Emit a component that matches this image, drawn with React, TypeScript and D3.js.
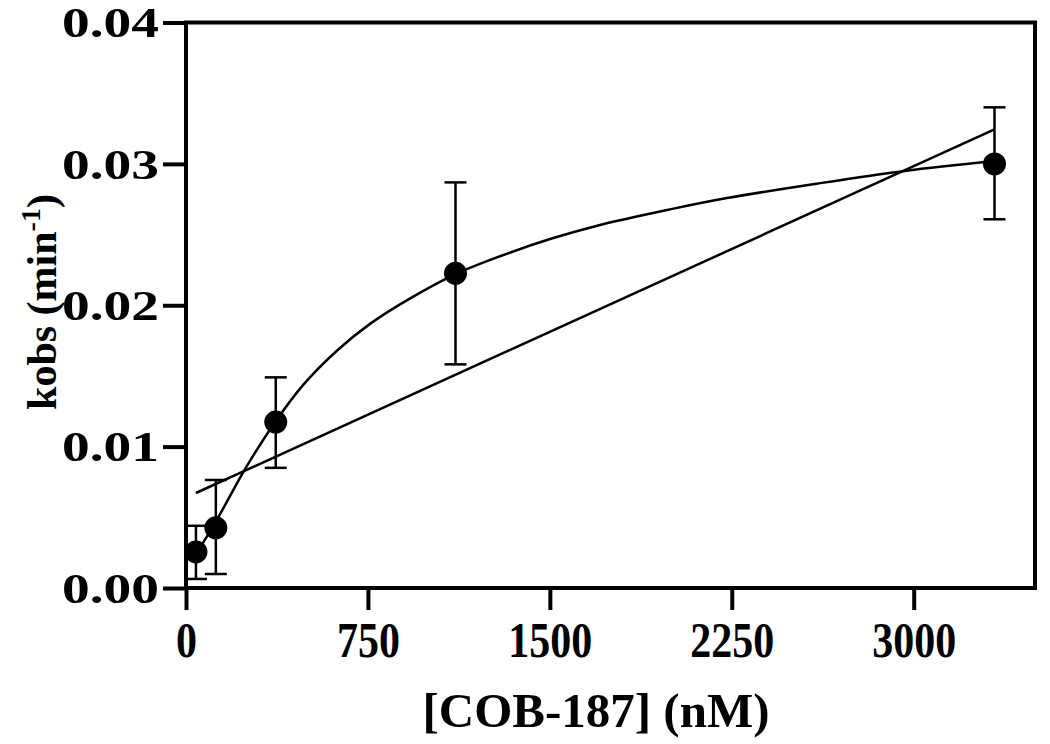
import React, { useEffect, useRef } from 'react';
import * as d3 from 'd3';

// measured points: [COB-187] in nM, kobs in min^-1
const conc = [41, 123, 370, 1111, 3333];
const kobs = [0.00255, 0.00426, 0.01174, 0.02226, 0.03];
const errHi = [0.0044, 0.00764, 0.0149, 0.02869, 0.034];
const errLo = [0.00064, 0.00099, 0.0085, 0.01582, 0.02608];

// fitted hyperbola
const fitX = [41, 123, 250, 370, 485, 623, 760, 926, 1111, 1300, 1504, 1711, 2000, 2236, 2600, 2963, 3333];
const fitY = [0.0024, 0.0047, 0.0086, 0.0118, 0.0144, 0.0168, 0.0187, 0.0205, 0.0222, 0.0235, 0.0247, 0.0257, 0.0268, 0.0276, 0.0286, 0.0295, 0.0302];

// straight line fit, end points
const linX = [41, 3333];
const linY = [0.00672, 0.03244];

const xTicks = [0, 750, 1500, 2250, 3000];
const yTicks = [0, 0.01, 0.02, 0.03, 0.04];

function App() {
  const svgRef = useRef<SVGSVGElement>(null);
  const w = 1050;
  const h = 744;

  useEffect(() => {
    const svg = d3.select(svgRef.current);
    svg.selectAll('*').remove();

    const x = d3.scaleLinear().domain([0, 3500]).range([186, 1035]);
    const y = d3.scaleLinear().domain([0, 0.04]).range([588, 22.5]);
    const font = '"Liberation Serif", "Times New Roman", serif';

    // frame box
    svg.append('rect')
      .attr('x', x(0)).attr('y', y(0.04))
      .attr('width', x(3500) - x(0)).attr('height', y(0) - y(0.04))
      .attr('fill', 'none').attr('stroke', '#000').attr('stroke-width', 4);

    // y axis ticks + labels (labels are drawn wide in the original)
    const yAxis = d3.axisLeft(y).tickValues(yTicks).tickSize(23).tickPadding(4)
      .tickFormat(d3.format('.2f'));
    const gy = svg.append('g').attr('transform', `translate(${x(0)},0)`).call(yAxis);
    gy.select('.domain').remove();
    gy.selectAll('line').attr('stroke', '#000').attr('stroke-width', 4);
    gy.selectAll('text')
      .attr('x', 0)
      .attr('transform', 'translate(-27,0) scale(1.32,1)')
      .attr('font-family', font).attr('font-weight', 'bold').attr('font-size', 42)
      .attr('fill', '#000').attr('dy', '0.34em');

    // x axis ticks + labels (narrow, tall digits)
    const xAxis = d3.axisBottom(x).tickValues(xTicks).tickSize(22).tickPadding(10)
      .tickFormat(d3.format('d'));
    const gx = svg.append('g').attr('transform', `translate(0,${y(0)})`).call(xAxis);
    gx.select('.domain').remove();
    gx.selectAll('line').attr('stroke', '#000').attr('stroke-width', 4);
    gx.selectAll('text')
      .attr('y', 0).attr('dy', 0)
      .attr('transform', 'translate(0,69) scale(0.84,1)')
      .attr('font-family', font).attr('font-weight', 'bold').attr('font-size', 50)
      .attr('fill', '#000');

    // axis titles
    svg.append('text')
      .attr('x', 596).attr('y', 727)
      .attr('text-anchor', 'middle')
      .attr('font-family', font).attr('font-weight', 'bold').attr('font-size', 49)
      .text('[COB-187] (nM)');

    const yt = svg.append('text')
      .attr('transform', 'translate(56,302) rotate(-90)')
      .attr('text-anchor', 'middle')
      .attr('font-family', font).attr('font-weight', 'bold').attr('font-size', 42);
    yt.append('tspan').text('kobs (min');
    yt.append('tspan').attr('font-size', 28).attr('dy', -16).text('-1');
    yt.append('tspan').attr('dy', 16).text(')');

    // fit curves
    const line = d3.line<number>().x((d, i) => x(fitX[i])).y(d => y(d)).curve(d3.curveCatmullRom.alpha(0.5));
    svg.append('path').attr('d', line(fitY))
      .attr('fill', 'none').attr('stroke', '#000').attr('stroke-width', 2.5);

    const straight = d3.line<number>().x((d, i) => x(linX[i])).y(d => y(d));
    svg.append('path').attr('d', straight(linY))
      .attr('fill', 'none').attr('stroke', '#000').attr('stroke-width', 2.5);

    // error bars
    const eb = svg.append('g').attr('stroke', '#000').attr('stroke-width', 2.5);
    conc.forEach((c, i) => {
      eb.append('line').attr('x1', x(c)).attr('x2', x(c)).attr('y1', y(errLo[i])).attr('y2', y(errHi[i]));
      eb.append('line').attr('x1', x(c) - 11).attr('x2', x(c) + 11).attr('y1', y(errLo[i])).attr('y2', y(errLo[i]));
      eb.append('line').attr('x1', x(c) - 11).attr('x2', x(c) + 11).attr('y1', y(errHi[i])).attr('y2', y(errHi[i]));
    });

    // points
    svg.append('g').selectAll('circle')
      .data(kobs)
      .enter()
      .append('circle')
      .attr('cx', (d, i) => x(conc[i]))
      .attr('cy', d => y(d))
      .attr('r', 11.5)
      .attr('fill', '#000');
  }, []);

  return (
    <svg ref={svgRef} width={w} height={h}
      style={{ position: 'absolute', left: 0, top: 0, background: '#fff' }} />
  );
}

export default App;
